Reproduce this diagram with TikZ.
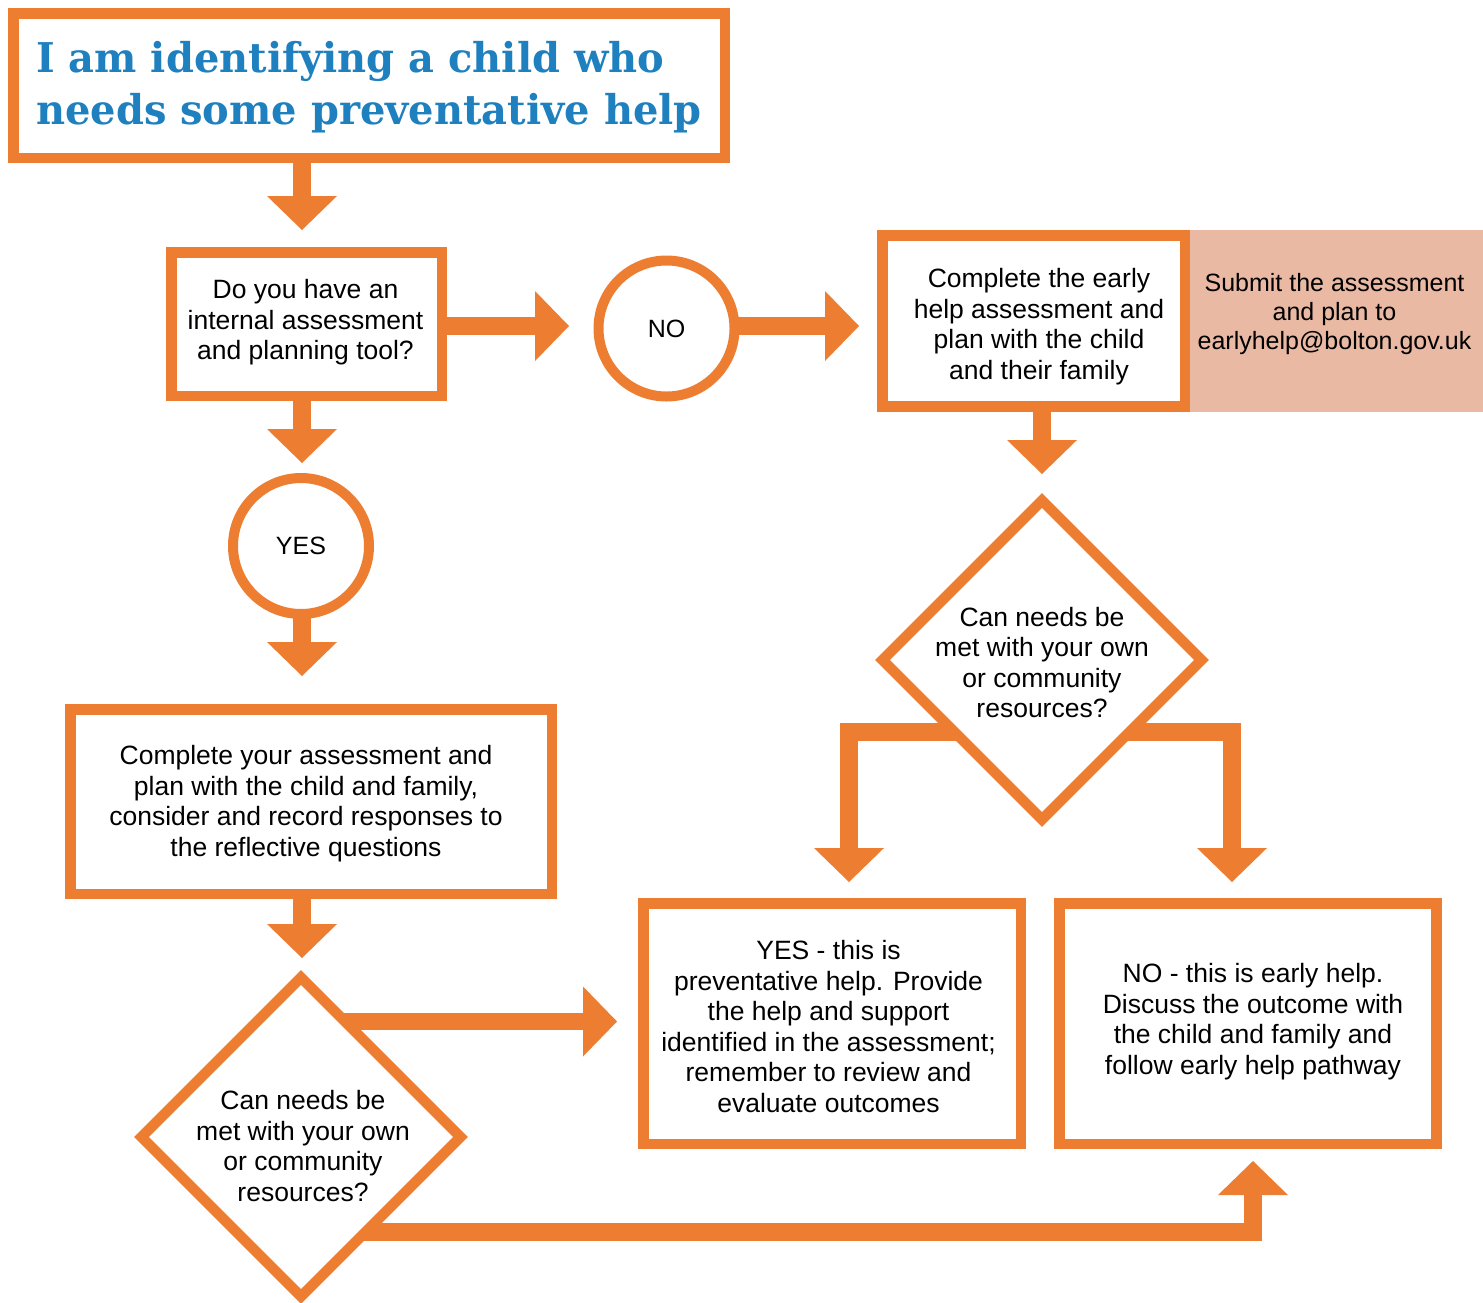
\documentclass[tikz,border=0pt]{standalone}
\usepackage{fontspec}
\setmainfont{Liberation Sans}
\newfontfamily\titlefont{DejaVu Serif}[FakeStretch=0.975]
\usetikzlibrary{arrows.meta,shapes.geometric}
\definecolor{org}{RGB}{237,125,49}
\definecolor{ttl}{RGB}{30,128,190}
\definecolor{salmon}{RGB}{233,185,164}
\pgfdeclarelayer{bg}
\pgfsetlayers{bg,main}
\begin{document}
\begin{tikzpicture}[x=1pt,y=-1pt,
  box/.style={draw=org, line width=10.5pt, fill=white, inner sep=0pt, outer sep=0pt},
  circ/.style={circle, draw=org, line width=10pt, fill=white, inner sep=0pt, outer sep=0pt,
    minimum size=136pt, font=\fontsize{25}{30}\selectfont},
  dia/.style={diamond, aspect=1, draw=org, line width=10.5pt, fill=white, inner sep=0pt,
    outer sep=0pt, minimum width=319pt, minimum height=319pt},
  txt/.style={align=center, inner sep=0pt, font=\fontsize{26.5}{30.6}\selectfont},
  conn/.style={draw=org, line width=17.5pt, line join=miter, line cap=butt,
    -{Triangle[width=70pt,length=34pt,line width=0pt]}}
]
\useasboundingbox (0,0) rectangle (1483,1302);

% boxes and shapes
\node[box, minimum width=711.5pt, minimum height=144.5pt] (T) at (369,85.5) {};
\node[text=ttl, align=left, inner sep=0pt, anchor=base west,
  font=\titlefont\bfseries\fontsize{41}{52}\selectfont] (Tt) at (36,124)
  {I am identifying a child who\\needs some preventative help};

\node[box, minimum width=270.5pt, minimum height=143.5pt] (A) at (306.5,324) {};
\node[txt] (At) at (305.5,322.5) {Do you have an\\internal assessment\\and planning tool?};

\node[circ] (N) at (666.5,328.5) {NO};
\node[circ] (Y) at (301,546) {YES};

\node[box, minimum width=481.5pt, minimum height=184.5pt] (B) at (311,801.5) {};
\node[txt] (Bt) at (306,803.5)
  {Complete your assessment and\\plan with the child and family,\\consider and record responses to\\the reflective questions};

\node[box, minimum width=302.5pt, minimum height=171pt] (D) at (1033.5,320.75) {};
\node[txt] (Dt) at (1039,326.75)
  {Complete the early\\help assessment and\\plan with the child\\and their family};

\node[fill=salmon, inner sep=0pt, outer sep=0pt, minimum width=293pt, minimum height=181.5pt]
  (E) at (1336.5,320.75) {};
\node[align=center, inner sep=0pt, font=\fontsize{25}{29}\selectfont] (Et) at (1334.5,314.25)
  {Submit the assessment\\and plan to\\earlyhelp@bolton.gov.uk};

\node[dia] (C) at (301,1137) {};
\node[txt] (Ct) at (303,1146) {Can needs be\\met with your own\\or community\\resources?};

\node[dia] (F) at (1042,660) {};
\node[txt] (Ft) at (1042,662.5) {Can needs be\\met with your own\\or community\\resources?};

\node[box, minimum width=377.5pt, minimum height=240.5pt] (G) at (832,1023.5) {};
\node[txt] (Gt) at (828.5,1026.5)
  {YES - this is\\preventative help. Provide\\the help and support\\identified in the assessment;\\remember to review and\\evaluate outcomes};

\node[box, minimum width=377pt, minimum height=240.5pt] (H) at (1247.75,1023.5) {};
\node[txt] (Ht) at (1253,1021.5)
  {NO - this is early help.\\Discuss the outcome with\\the child and family and\\follow early help pathway};

% connector end points
\coordinate (tA) at (302,230);
\coordinate (tY) at (302,463);
\coordinate (tB) at (302,676);
\coordinate (tC) at (302,958);
\coordinate (tN) at (569,326);
\coordinate (tD) at (859,326);
\coordinate (tF) at (1042,474);
\coordinate (tG1) at (849,882);
\coordinate (tH1) at (1232,882);
\coordinate (tG2) at (617,1021.5);
\coordinate (tH2) at (1253,1161);
\coordinate (bL) at (849,732);
\coordinate (bR) at (1232,732);
\coordinate (bB) at (1253,1232);

\begin{pgfonlayer}{bg}
\draw[conn] (T.center -| tA) -- (tA);
\draw[conn] (A.center -| tY) -- (tY);
\draw[conn] (Y.center -| tB) -- (tB);
\draw[conn] (B.center -| tC) -- (tC);
\draw[conn] (A.center |- tN) -- (tN);
\draw[conn] (N.center |- tD) -- (tD);
\draw[conn] (D.center -| tF) -- (tF);
\draw[conn] (F.center |- bL) -- (bL) -- (tG1);
\draw[conn] (F.center |- bR) -- (bR) -- (tH1);
\draw[conn] (C.center |- tG2) -- (tG2);
\draw[conn] (C.center |- bB) -- (bB) -- (tH2);
\end{pgfonlayer}
\end{tikzpicture}
\end{document}
